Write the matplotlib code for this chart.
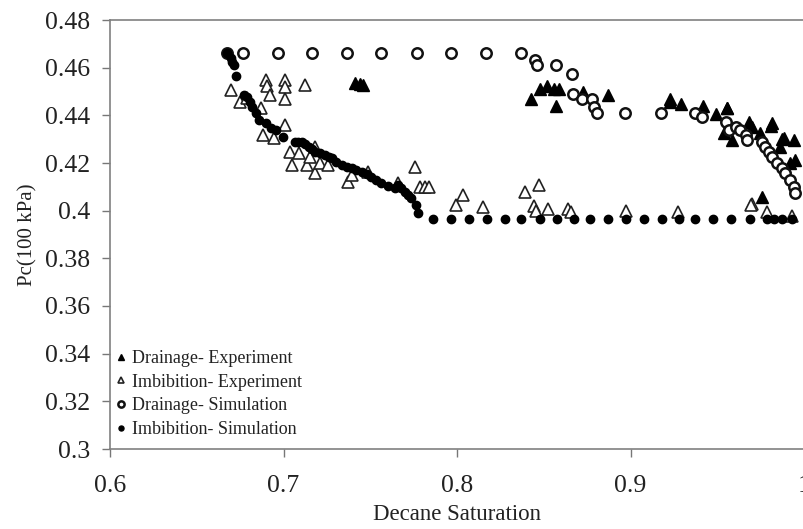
import matplotlib
matplotlib.use("Agg")
import matplotlib.pyplot as plt

# Drainage - Experiment (filled triangles)
drain_exp_x = [0.7412, 0.7440, 0.7460, 0.8427, 0.8480, 0.8519, 0.8557, 0.8590, 0.8572,
               0.8728, 0.8868, 0.9229, 0.9229, 0.9291, 0.9415, 0.9492, 0.9555, 0.9558,
               0.9539, 0.9587, 0.9682, 0.9701, 0.9810, 0.9816, 0.9749, 0.9873, 0.9883,
               0.9940, 0.9864, 0.9921, 0.9950, 0.9759]
drain_exp_y = [0.4537, 0.4532, 0.4527, 0.4468, 0.4509, 0.4523, 0.4509, 0.4509, 0.4439,
               0.4500, 0.4485, 0.4467, 0.4454, 0.4447, 0.4439, 0.4405, 0.4429, 0.4429,
               0.4327, 0.4296, 0.4373, 0.4352, 0.4355, 0.4366, 0.4324, 0.4300, 0.4304,
               0.4296, 0.4268, 0.4199, 0.4213, 0.4059]

# Imbibition - Experiment (open triangles)
imb_exp_x = [0.6700, 0.6748, 0.6792, 0.6868, 0.6881, 0.6897, 0.6906, 0.6922, 0.6944,
             0.7007, 0.7007, 0.7007, 0.7011, 0.7126, 0.7040, 0.7050, 0.7088, 0.7135,
             0.7155, 0.7179, 0.7183, 0.7212, 0.7259, 0.7374, 0.7393, 0.7488, 0.7660,
             0.7759, 0.7784, 0.7813, 0.7841, 0.7994, 0.8032, 0.8150, 0.8394, 0.8471,
             0.8446, 0.8457, 0.8523, 0.8637, 0.8656, 0.8973, 0.9272, 0.9698, 0.9692,
             0.9788, 0.9931]
imb_exp_y = [0.4506, 0.4457, 0.4471, 0.4429, 0.4317, 0.4548, 0.4523, 0.4485, 0.4304,
             0.4548, 0.4517, 0.4468, 0.4359, 0.4527, 0.4247, 0.4192, 0.4240, 0.4192,
             0.4226, 0.4157, 0.4268, 0.4199, 0.4192, 0.4121, 0.4149, 0.4164, 0.4115,
             0.4185, 0.4100, 0.4100, 0.4100, 0.4024, 0.4066, 0.4017, 0.4079, 0.4108,
             0.4021, 0.4000, 0.4007, 0.4007, 0.3996, 0.4000, 0.3993, 0.4028, 0.4024,
             0.3996, 0.3978]

# Drainage - Simulation (open circles)
drain_sim_x = [0.6674, 0.6765, 0.6969, 0.7164, 0.7366, 0.7564, 0.7771, 0.7965, 0.8169,
               0.8366, 0.8448, 0.8461, 0.8570, 0.8660, 0.8670, 0.8720, 0.8780, 0.8790,
               0.8805, 0.8970, 0.9177, 0.9372, 0.9412, 0.9549, 0.9568, 0.9606, 0.9630,
               0.9664, 0.9670, 0.9759, 0.9778, 0.9797, 0.9816, 0.9845, 0.9873, 0.9892,
               0.9921, 0.9940, 0.9950]
drain_sim_y = [0.4660, 0.4660, 0.4660, 0.4660, 0.4660, 0.4660, 0.4660, 0.4660, 0.4660,
               0.4660, 0.4632, 0.4611, 0.4610, 0.4573, 0.4490, 0.4470, 0.4470, 0.4436,
               0.4408, 0.4408, 0.4411, 0.4411, 0.4392, 0.4373, 0.4338, 0.4352, 0.4338,
               0.4317, 0.4296, 0.4289, 0.4268, 0.4247, 0.4226, 0.4199, 0.4178, 0.4157,
               0.4129, 0.4100, 0.4073]

# Imbibition - Simulation (filled circles)
imb_sim_x = [0.6674, 0.6697, 0.6706, 0.6716, 0.6729, 0.6773, 0.6792, 0.6805, 0.6820,
             0.6840, 0.6859, 0.6897, 0.6930, 0.6954, 0.6996, 0.7065, 0.7085, 0.7107,
             0.7125, 0.7145, 0.7165, 0.7183, 0.7210, 0.7240, 0.7260, 0.7278, 0.7305,
             0.7335, 0.7365, 0.7393, 0.7420, 0.7450, 0.7480, 0.7507, 0.7535, 0.7564,
             0.7600, 0.7641, 0.7660, 0.7680, 0.7698, 0.7718, 0.7736, 0.7765, 0.7775,
             0.7864, 0.7965, 0.8070, 0.8175, 0.8274, 0.8366, 0.8477, 0.8576, 0.8677,
             0.8766, 0.8871, 0.8976, 0.9077, 0.9180, 0.9281, 0.9373, 0.9478, 0.9581,
             0.9686, 0.9787, 0.9825, 0.9873, 0.9931]
imb_sim_y = [0.4660, 0.4639, 0.4625, 0.4611, 0.4565, 0.4485, 0.4478, 0.4457, 0.4436,
             0.4408, 0.4380, 0.4366, 0.4345, 0.4338, 0.4308, 0.4287, 0.4287, 0.4287,
             0.4278, 0.4268, 0.4257, 0.4247, 0.4240, 0.4234, 0.4227, 0.4220, 0.4206,
             0.4192, 0.4185, 0.4178, 0.4171, 0.4164, 0.4153, 0.4142, 0.4130, 0.4117,
             0.4105, 0.4094, 0.4108, 0.4094, 0.4079, 0.4066, 0.4052, 0.4024, 0.3989,
             0.3964, 0.3964, 0.3964, 0.3964, 0.3964, 0.3964, 0.3964, 0.3964, 0.3964,
             0.3964, 0.3964, 0.3964, 0.3964, 0.3964, 0.3964, 0.3964, 0.3964, 0.3964,
             0.3964, 0.3964, 0.3964, 0.3964, 0.3964]

plt.rcParams['font.family'] = ['Liberation Serif', 'DejaVu Serif']

fig = plt.figure(figsize=(8.04, 5.29), dpi=100)
ax = fig.add_axes([110 / 804, 1 - 449 / 529, 1 - 110 / 804, 429 / 529])

ax.plot(drain_exp_x, drain_exp_y, linestyle='none', marker='^', ms=8,
        mfc='black', mec='black', mew=1.0, label='Drainage- Experiment')
ax.plot(imb_exp_x, imb_exp_y, linestyle='none', marker='^', ms=8,
        mfc='white', mec='#222222', mew=1.2, label='Imbibition- Experiment')
ax.plot(drain_sim_x, drain_sim_y, linestyle='none', marker='o', ms=7.5,
        mfc='white', mec='#111111', mew=1.8, label='Drainage- Simulation')
ax.plot(imb_sim_x, imb_sim_y, linestyle='none', marker='o', ms=6,
        mfc='black', mec='black', label='Imbibition- Simulation')

ax.set_xlim(0.6, 0.6 + 694 / 1747)
ax.set_ylim(0.3, 0.48)
ax.set_xticks([0.6, 0.7, 0.8, 0.9, 1.0])
ax.set_xticklabels(['0.6', '0.7', '0.8', '0.9', '1'])
ax.set_yticks([0.3, 0.32, 0.34, 0.36, 0.38, 0.4, 0.42, 0.44, 0.46, 0.48])
ax.set_yticklabels(['0.3', '0.32', '0.34', '0.36', '0.38', '0.4', '0.42', '0.44', '0.46', '0.48'])
ax.tick_params(direction='out', length=6, width=1, color='#777777',
               labelsize=18.5, labelcolor='#222222')
ax.tick_params(axis='y', pad=8)
ax.tick_params(axis='x', pad=13)

for s in ['left', 'bottom', 'top']:
    ax.spines[s].set_color('#808080')
    ax.spines[s].set_linewidth(1.2)
ax.spines['right'].set_visible(False)

ax.set_xlabel('Decane Saturation', fontsize=16.5, color='#222222', labelpad=5)
ax.set_ylabel('Pc(100 kPa)', fontsize=15, color='#222222', labelpad=6)

ax.legend(loc='lower left', bbox_to_anchor=(-0.008, 0.0), frameon=False,
          fontsize=13, markerscale=0.6, handlelength=0.6, handletextpad=0.3,
          labelspacing=0.37, borderaxespad=0.3, borderpad=0.3, labelcolor='#222222')

fig.savefig('out.png', dpi=100)
